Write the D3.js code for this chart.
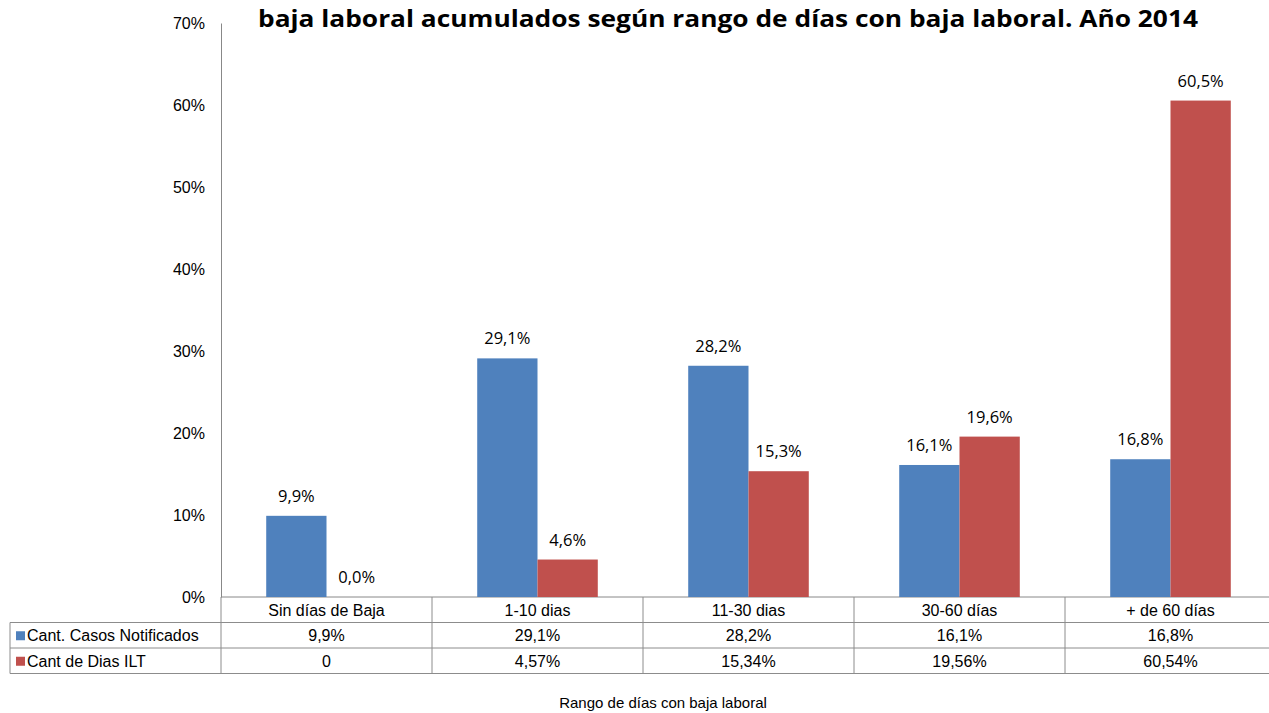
<!DOCTYPE html>
<html>
<head>
<meta charset="utf-8">
<script src="https://cdn.jsdelivr.net/npm/d3@7"></script>
<style>
  body { margin: 0; background: #fff; }
  svg { display: block; }
</style>
</head>
<body>
<div id="chart"></div>
<script>
const categories = ["Sin días de Baja", "1-10 dias", "11-30 dias", "30-60 días", "+ de 60 días"];
const seriesNames = ["Cant. Casos Notificados", "Cant de Dias ILT"];
const casos = [9.9, 29.1, 28.2, 16.1, 16.8];
const diasILT = [0.0, 4.57, 15.34, 19.56, 60.54];
const casosTable = ["9,9%", "29,1%", "28,2%", "16,1%", "16,8%"];
const diasTable = ["0", "4,57%", "15,34%", "19,56%", "60,54%"];
const yTicks = [0, 10, 20, 30, 40, 50, 60, 70];
const colors = ["#4F81BD", "#C0504D"];

const width = 1269, height = 713;
const plotLeft = 221, plotRight = 1276, plotTop = 23, plotBottom = 597;
const rowH = 25.5;

const svg = d3.select("#chart").append("svg")
  .attr("width", width).attr("height", height);

const x = d3.scaleBand().domain(categories).range([plotLeft, plotRight]).paddingInner(0).paddingOuter(0);
const xs = d3.scaleBand().domain([0, 1]).range([0, x.bandwidth()]).paddingInner(0).paddingOuter(0.75);
const y = d3.scaleLinear().domain([0, 70]).range([plotBottom, plotTop]);

const cellFont = "'Liberation Sans', Arial, sans-serif";

// title (first line is off-canvas in the original)
svg.append("text")
  .attr("x", 728).attr("y", 27)
  .attr("text-anchor", "middle")
  .style("font-family", "'Open Sans', sans-serif")
  .style("font-weight", "bold")
  .style("font-size", "24px")
  .attr("textLength", 940)
  .attr("lengthAdjust", "spacingAndGlyphs")
  .style("fill", "#000")
  .text("baja laboral acumulados según rango de días con baja laboral. Año 2014");

// y axis
const yAxis = d3.axisLeft(y).tickValues(yTicks).tickFormat(d => d + "%").tickSize(0).tickPadding(16);
const gy = svg.append("g").attr("transform", `translate(${plotLeft},0)`).call(yAxis);
gy.select(".domain").attr("stroke", "#888");
gy.selectAll("text")
  .style("font-family", cellFont)
  .style("font-size", "16px")
  .style("fill", "#000");

// x baseline
svg.append("line")
  .attr("x1", plotLeft).attr("x2", plotRight).attr("y1", plotBottom).attr("y2", plotBottom)
  .attr("stroke", "#888");

const data = categories.map((c, i) => ({ cat: c, vals: [casos[i], diasILT[i]] }));

const groups = svg.append("g").selectAll("g").data(data).join("g")
  .attr("transform", d => `translate(${x(d.cat)},0)`);

groups.selectAll("rect").data(d => d.vals.map((v, k) => ({ v, k }))).join("rect")
  .attr("x", d => xs(d.k))
  .attr("width", xs.bandwidth())
  .attr("y", d => y(d.v))
  .attr("height", d => plotBottom - y(d.v))
  .attr("fill", d => colors[d.k]);

groups.selectAll("text.lbl").data(d => d.vals.map((v, k) => ({ v, k }))).join("text")
  .attr("class", "lbl")
  .attr("x", d => xs(d.k) + xs.bandwidth() / 2)
  .attr("y", d => y(d.v) - 14)
  .attr("text-anchor", "middle")
  .style("font-family", "'Open Sans', sans-serif")
  .style("font-size", "16.5px")
  .style("fill", "#000")
  .text(d => d.v.toFixed(1).replace(".", ",") + "%");

// data table
const tableLeft = 10;
const lineColor = "#8c8c8c";
const tbl = svg.append("g");
[1, 2, 3].forEach(r => {
  tbl.append("line")
    .attr("x1", tableLeft).attr("x2", plotRight)
    .attr("y1", plotBottom + rowH * r).attr("y2", plotBottom + rowH * r)
    .attr("stroke", lineColor);
});
tbl.append("line").attr("x1", tableLeft).attr("x2", tableLeft)
  .attr("y1", plotBottom + rowH).attr("y2", plotBottom + rowH * 3).attr("stroke", lineColor);
categories.forEach(c => {
  tbl.append("line")
    .attr("x1", x(c)).attr("x2", x(c))
    .attr("y1", plotBottom).attr("y2", plotBottom + rowH * 3)
    .attr("stroke", lineColor);
});

categories.forEach((c, i) => {
  const cx = x(c) + x.bandwidth() / 2;
  [c, casosTable[i], diasTable[i]].forEach((t, r) => {
    tbl.append("text")
      .attr("x", cx).attr("y", plotBottom + rowH * r + rowH / 2 + 6)
      .attr("text-anchor", "middle")
      .style("font-family", cellFont).style("font-size", "16px")
      .text(t);
  });
});

seriesNames.forEach((s, k) => {
  const cy = plotBottom + rowH * (k + 1) + rowH / 2;
  tbl.append("rect")
    .attr("x", tableLeft + 6).attr("y", cy - 4).attr("width", 9).attr("height", 9)
    .attr("fill", colors[k]);
  tbl.append("text")
    .attr("x", tableLeft + 17).attr("y", cy + 6)
    .style("font-family", cellFont).style("font-size", "16px")
    .text(s);
});

// x axis title
svg.append("text")
  .attr("x", 663).attr("y", 708)
  .attr("text-anchor", "middle")
  .style("font-family", cellFont).style("font-size", "15px")
  .text("Rango de días con baja laboral");
</script>
</body>
</html>
